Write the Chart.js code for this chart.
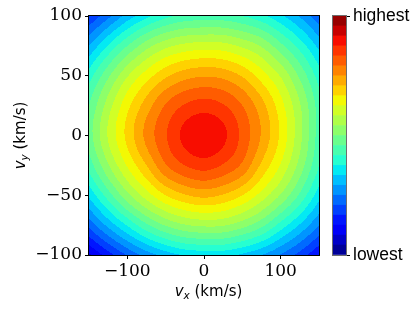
<!DOCTYPE html>
<html>
<head>
<meta charset="utf-8">
<script src="https://cdn.jsdelivr.net/npm/chart.js@4.4.1/dist/chart.umd.min.js"></script>
<style>
  html, body { margin: 0; padding: 0; background: #fff; }
  #wrap { position: relative; width: 415px; height: 311px; }
  canvas { position: absolute; top: 0; }
  #main { left: 0; }
  #cbar { left: 320px; }
</style>
</head>
<body>
<div id="wrap">
  <canvas id="main" width="415" height="311"></canvas>
  <canvas id="cbar" width="95" height="311"></canvas>
</div>
<script>
// grid of velocities (km/s) and the contour level read at each node
var vxGrid = [-150, -125, -100, -75, -50, -25, 0, 25, 50, 75, 100, 125, 150];
var vyGrid = [100, 75, 50, 25, 0, -25, -50, -75, -100];
var levelRows = [
    [4.0, 5.7, 7.4, 8.7, 9.7, 10.3, 10.4, 10.4, 10.0, 9.3, 8.2, 6.9, 5.3],
    [7.0, 9.1, 11.0, 12.6, 13.7, 14.3, 14.5, 14.4, 13.8, 12.9, 11.3, 9.6, 7.7],
    [9.5, 11.8, 13.9, 15.5, 16.8, 17.6, 17.9, 17.7, 16.9, 15.5, 13.9, 11.8, 9.5],
    [11.0, 13.5, 15.7, 17.5, 19.1, 20.1, 20.5, 20.1, 19.0, 17.4, 15.4, 13.1, 10.5],
    [11.5, 14.1, 16.3, 18.3, 19.9, 21.3, 21.95, 21.25, 19.7, 17.9, 15.8, 13.3, 10.5],
    [10.4, 12.9, 15.1, 17.0, 18.9, 20.0, 20.45, 19.9, 18.8, 16.8, 14.9, 12.6, 10.0],
    [8.2, 10.5, 12.7, 14.5, 16.0, 16.9, 17.3, 16.9, 16.0, 14.6, 12.9, 10.8, 8.4],
    [5.3, 7.3, 9.1, 10.8, 12.1, 12.9, 13.2, 13.1, 12.4, 11.3, 9.6, 7.9, 6.0],
    [1.8, 3.5, 5.1, 6.4, 7.4, 8.1, 8.3, 8.3, 7.8, 7.0, 5.9, 4.6, 3.0]
];
var nLevels = 24;
var xTicks = [-100, 0, 100];
var yTicks = [-100, -50, 0, 50, 100];
var cbarLabels = ['lowest', 'highest'];

// jet colormap
var jetData = {
    r: [[0, 0], [0.35, 0], [0.66, 1], [0.89, 1], [1, 0.5]],
    g: [[0, 0], [0.125, 0], [0.375, 1], [0.64, 1], [0.91, 0], [1, 0]],
    b: [[0, 0.5], [0.11, 1], [0.34, 1], [0.65, 0], [1, 0]]
};
function seg(pts, t) {
    for (var i = 1; i < pts.length; i++) {
        if (t <= pts[i][0]) {
            var a = pts[i - 1], b = pts[i];
            return a[1] + (b[1] - a[1]) * (t - a[0]) / (b[0] - a[0]);
        }
    }
    return pts[pts.length - 1][1];
}
var levelRGB = [];
for (var i = 0; i < nLevels; i++) {
    var t = (i + 0.5) / nLevels;
    levelRGB.push([Math.round(seg(jetData.r, t) * 255), Math.round(seg(jetData.g, t) * 255), Math.round(seg(jetData.b, t) * 255)]);
}
var levelColours = levelRGB.map(function(c) { return 'rgb(' + c.join(',') + ')'; });

// smooth lookup in the level grid
function node(r, c) {
    var nr = levelRows.length, nc = levelRows[0].length;
    if (c < 0) return 2 * node(r, 0) - node(r, 1);
    if (c >= nc) return 2 * node(r, nc - 1) - node(r, nc - 2);
    if (r < 0) return 2 * node(0, c) - node(1, c);
    if (r >= nr) return 2 * node(nr - 1, c) - node(nr - 2, c);
    return levelRows[r][c];
}
function cr(p0, p1, p2, p3, t) {
    return 0.5 * (2 * p1 + (p2 - p0) * t + (2 * p0 - 5 * p1 + 4 * p2 - p3) * t * t + (3 * p1 - p0 - 3 * p2 + p3) * t * t * t);
}
function levelAt(vx, vy) {
    var fx = (vx - vxGrid[0]) / (vxGrid[1] - vxGrid[0]);
    var fy = (vy - vyGrid[0]) / (vyGrid[1] - vyGrid[0]);
    var ix = Math.min(Math.max(Math.floor(fx), 0), vxGrid.length - 2);
    var iy = Math.min(Math.max(Math.floor(fy), 0), vyGrid.length - 2);
    var tx = fx - ix, ty = fy - iy;
    var col = [];
    for (var j = -1; j <= 2; j++) {
        col.push(cr(node(iy + j, ix - 1), node(iy + j, ix), node(iy + j, ix + 1), node(iy + j, ix + 2), tx));
    }
    return cr(col[0], col[1], col[2], col[3], ty);
}

// filled contours, painted cell by cell through the scales
var fieldPlugin = {
    id: 'field',
    beforeDatasetsDraw: function(chart) {
        var a = chart.chartArea, xs = chart.scales.x, ys = chart.scales.y;
        var w = Math.round(a.right - a.left), h = Math.round(a.bottom - a.top);
        var off = document.createElement('canvas');
        off.width = w; off.height = h;
        var octx = off.getContext('2d');
        var img = octx.createImageData(w, h);
        for (var py = 0; py < h; py++) {
            var vy = ys.getValueForPixel(a.top + py + 0.5);
            for (var px = 0; px < w; px++) {
                var vx = xs.getValueForPixel(a.left + px + 0.5);
                var k = Math.floor(levelAt(vx, vy));
                k = Math.min(Math.max(k, 0), nLevels - 1);
                var c = levelRGB[k], p = (py * w + px) * 4;
                img.data[p] = c[0]; img.data[p + 1] = c[1]; img.data[p + 2] = c[2]; img.data[p + 3] = 255;
            }
        }
        octx.putImageData(img, 0, 0);
        chart.ctx.drawImage(off, a.left, a.top, w, h);
    },
    afterDatasetsDraw: function(chart) {
        var a = chart.chartArea, ctx = chart.ctx;
        ctx.save();
        ctx.strokeStyle = '#000';
        ctx.lineWidth = 1;
        ctx.strokeRect(Math.round(a.left) - 0.5, Math.round(a.top) - 0.5, Math.round(a.right - a.left) + 1, Math.round(a.bottom - a.top) + 1);
        ctx.restore();
    },
    afterDraw: function(chart) {
        var ctx = chart.ctx, a = chart.chartArea;
        function label(sub, x, y, rot) {
            var size = 15;
            var f1 = 'italic ' + size + 'px "DejaVu Sans"';
            var f2 = 'italic ' + (size * 0.7) + 'px "DejaVu Sans"';
            var f3 = size + 'px "DejaVu Sans"';
            ctx.save();
            ctx.fillStyle = '#000';
            ctx.textBaseline = 'alphabetic';
            ctx.font = f1; var w1 = ctx.measureText('v').width;
            ctx.font = f2; var w2 = ctx.measureText(sub).width;
            ctx.font = f3; var w3 = ctx.measureText(' (km/s)').width;
            var total = w1 + w2 + w3;
            ctx.translate(x, y);
            ctx.rotate(rot);
            var sx = -total / 2;
            ctx.font = f1; ctx.fillText('v', sx, 0);
            ctx.font = f2; ctx.fillText(sub, sx + w1, size * 0.22);
            ctx.font = f3; ctx.fillText(' (km/s)', sx + w1 + w2, 0);
            ctx.restore();
        }
        label('x', (a.left + a.right) / 2 + 4.5, 296, 0);
        label('y', 25, (a.top + a.bottom) / 2, -Math.PI / 2);
    }
};

function minus(v) { return v < 0 ? '\u2212' + Math.abs(v) : '' + v; }

var gridPoints = [];
vyGrid.forEach(function(vy) { vxGrid.forEach(function(vx) { gridPoints.push({ x: vx, y: vy }); }); });

var tickFont = { family: '"DejaVu Serif"', size: 17 };

new Chart(document.getElementById('main'), {
    type: 'scatter',
    data: { datasets: [{ data: gridPoints, pointRadius: 0 }] },
    options: {
        responsive: false,
        animation: false,
        events: [],
        layout: { padding: { left: 0, top: 16, right: 96, bottom: 0 } },
        plugins: { legend: { display: false }, tooltip: { enabled: false } },
        scales: {
            x: {
                type: 'linear', min: -150, max: 150,
                afterBuildTicks: function(s) { s.ticks = xTicks.map(function(v) { return { value: v }; }); },
                afterFit: function(s) { s.height = 56; },
                ticks: { font: tickFont, color: '#000', padding: 2, maxRotation: 0, autoSkip: false, callback: minus },
                grid: { drawOnChartArea: false, drawTicks: true, tickLength: 4, color: '#000' },
                border: { display: true, color: '#000' }
            },
            y: {
                type: 'linear', min: -100, max: 100,
                afterBuildTicks: function(s) { s.ticks = yTicks.map(function(v) { return { value: v }; }); },
                afterFit: function(s) { s.width = 89; },
                ticks: { font: tickFont, color: '#000', padding: 3, autoSkip: false, callback: minus },
                grid: { drawOnChartArea: false, drawTicks: true, tickLength: 4, color: '#000' },
                border: { display: true, color: '#000' }
            }
        }
    },
    plugins: [fieldPlugin]
});

// colour bar: one stacked bar, one segment per level
var cbarFrame = {
    id: 'cbarFrame',
    afterDatasetsDraw: function(chart) {
        var a = chart.chartArea, ctx = chart.ctx;
        ctx.save();
        ctx.strokeStyle = '#6e6e6e';
        ctx.lineWidth = 1;
        ctx.strokeRect(Math.round(a.left) - 0.5, Math.round(a.top) - 0.5, Math.round(a.right - a.left) + 1, Math.round(a.bottom - a.top) + 1);
        ctx.restore();
    }
};

new Chart(document.getElementById('cbar'), {
    type: 'bar',
    data: {
        labels: [''],
        datasets: levelColours.map(function(c) {
            return { data: [1], backgroundColor: c, borderWidth: 0, barPercentage: 1, categoryPercentage: 1 };
        })
    },
    options: {
        responsive: false,
        animation: false,
        events: [],
        layout: { padding: { left: 13, top: 16, right: 0, bottom: 56 } },
        plugins: { legend: { display: false }, tooltip: { enabled: false } },
        scales: {
            x: { stacked: true, display: false },
            y: {
                stacked: true, position: 'right', min: 0, max: nLevels,
                afterBuildTicks: function(s) { s.ticks = [{ value: 0 }, { value: nLevels }]; },
                afterFit: function(s) { s.width = 69; },
                ticks: {
                    font: { family: '"Liberation Sans"', size: 17.5 }, color: '#000', padding: 3, autoSkip: false,
                    callback: function(v) { return v === 0 ? cbarLabels[0] : cbarLabels[1]; }
                },
                grid: { drawOnChartArea: false, drawTicks: true, tickLength: 4, color: '#000' },
                border: { display: false }
            }
        }
    },
    plugins: [cbarFrame]
});
</script>
</body>
</html>
